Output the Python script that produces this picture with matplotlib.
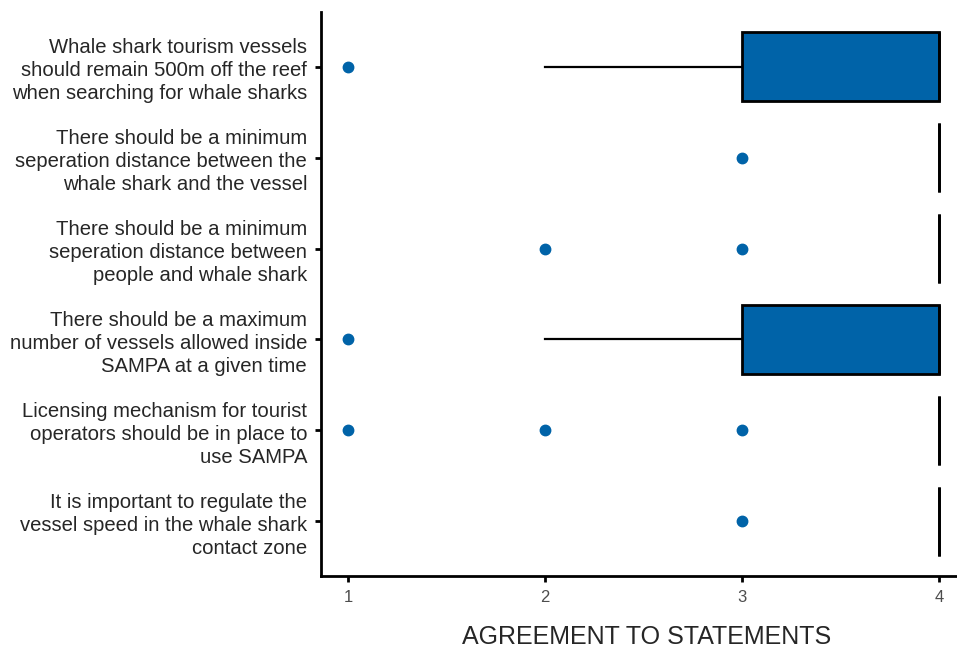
import matplotlib
matplotlib.use('Agg')
import matplotlib.pyplot as plt

# statements, top to bottom
statements = [
    'Whale shark tourism vessels\nshould remain 500m off the reef\nwhen searching for whale sharks',
    'There should be a minimum\nseperation distance between the\nwhale shark and the vessel',
    'There should be a minimum\nseperation distance between\npeople and whale shark',
    'There should be a maximum\nnumber of vessels allowed inside\nSAMPA at a given time',
    'Licensing mechanism for tourist\noperators should be in place to\nuse SAMPA',
    'It is important to regulate the\nvessel speed in the whale shark\ncontact zone',
]
q1 = [3, 4, 4, 3, 4, 4]
median = [4, 4, 4, 4, 4, 4]
q3 = [4, 4, 4, 4, 4, 4]
whisk_lo = [2, 4, 4, 2, 4, 4]
whisk_hi = [4, 4, 4, 4, 4, 4]
outliers = [[1], [3], [2, 3], [1], [1, 2, 3], [3]]
x_ticks = [1, 2, 3, 4]

BLUE = '#0063A8'

plt.rcParams['font.family'] = ['Liberation Sans', 'DejaVu Sans']

fig = plt.figure(figsize=(9.57, 6.48), dpi=100)
ax = fig.add_axes([321 / 957, 72 / 648, 1 - 321 / 957, (576 - 12) / 648])

n = len(statements)
positions = [n - i for i in range(n)]
stats = []
for i in range(n):
    stats.append(dict(q1=q1[i], med=median[i], q3=q3[i],
                      whislo=whisk_lo[i], whishi=whisk_hi[i], fliers=outliers[i]))

ax.bxp(stats, positions=positions, orientation='horizontal', widths=0.76,
       showcaps=False, patch_artist=True,
       boxprops=dict(facecolor=BLUE, edgecolor='black', linewidth=2),
       whiskerprops=dict(color='black', linewidth=1.6),
       medianprops=dict(color='black', linewidth=2),
       flierprops=dict(marker='o', markerfacecolor=BLUE, markeredgecolor=BLUE,
                       markersize=7.5))

ax.set_xlim(0.863, 4.09)
ax.set_ylim(0.4, n + 0.6)
ax.set_xticks(x_ticks)
ax.set_xticklabels([str(t) for t in x_ticks])
ax.set_yticks(positions)
ax.set_yticklabels(statements, fontsize=14.6, color='#262626', linespacing=1.28)

ax.tick_params(axis='x', length=4, width=2, labelsize=12, labelcolor='#4d4d4d', pad=6)
ax.tick_params(axis='y', length=4, width=2, pad=6)

for side in ['top', 'right']:
    ax.spines[side].set_visible(False)
for side in ['left', 'bottom']:
    ax.spines[side].set_linewidth(2)

ax.set_xlabel('AGREEMENT TO STATEMENTS', fontsize=18, color='#262626')
ax.xaxis.label.set_va('center')
ax.xaxis.set_label_coords((647 - 321) / 636, -(637 - 576) / 564)

fig.savefig('out.png', dpi=100)
